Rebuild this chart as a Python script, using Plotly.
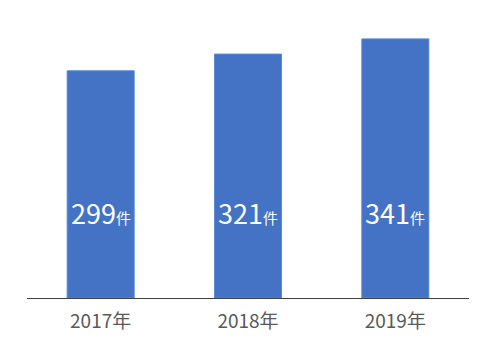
import plotly.graph_objects as go

categories = ["2017年", "2018年", "2019年"]
values = [299, 321, 341]
unit = "件"
label_y = 113

fig = go.Figure()
fig.add_trace(go.Bar(
    x=categories, y=values,
    marker=dict(color="#4472C4", line=dict(color="#5B8AD6", width=1)),
    hoverinfo="skip",
))

for c, v in zip(categories, values):
    fig.add_annotation(
        x=c, y=label_y, xref="x", yref="y",
        text=f"<span style='font-size:27px'>{v}</span><span style='font-size:15px'>{unit}</span>",
        showarrow=False, font=dict(color="white", family="Noto Sans CJK JP"),
        xanchor="center", yanchor="middle",
    )

fig.update_layout(
    width=500, height=362,
    margin=dict(l=19, r=39, t=2, b=72),
    paper_bgcolor="white", plot_bgcolor="white",
    bargap=0.545,
    showlegend=False,
    font=dict(family="Noto Sans CJK JP"),
)
fig.update_xaxes(
    showline=True, linecolor="#404040", linewidth=1,
    ticks="", tickfont=dict(size=19, color="#595959"),
    ticklabelstandoff=6,
    showgrid=False,
)
fig.update_yaxes(
    range=[0, 379], visible=False, showgrid=False, zeroline=False,
)

fig.write_html("out.html")
